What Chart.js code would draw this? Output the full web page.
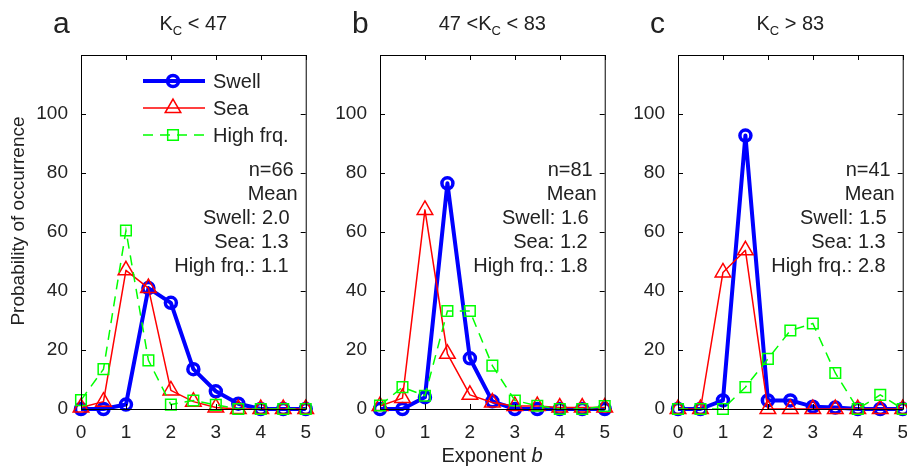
<!DOCTYPE html>
<html>
<head>
<meta charset="utf-8">
<script src="https://cdn.jsdelivr.net/npm/chart.js@4.4.0/dist/chart.umd.min.js"></script>
<style>
html, body { margin: 0; padding: 0; background: #fff; overflow: hidden; }
#wrap { position: relative; width: 907px; height: 468px; overflow: hidden; }
canvas { position: absolute; top: 0; }
</style>
</head>
<body>
<div id="wrap">
  <canvas id="pa" width="317" height="468" style="left:6px"></canvas>
  <canvas id="pb" width="317" height="468" style="left:305px"></canvas>
  <canvas id="pc" width="317" height="468" style="left:603px"></canvas>
</div>
<script>
// exponent b bins and tick labels
var xValues = [0, 0.5, 1, 1.5, 2, 2.5, 3, 3.5, 4, 4.5, 5];
var xTicks = [0, 1, 2, 3, 4, 5];
var yTicks = [0, 20, 40, 60, 80, 100];
var seriesNames = ['Swell', 'Sea', 'High frq.'];
var panelLetters = ['a', 'b', 'c'];

// probability of occurrence (%) per panel
var swellA = [0, 0, 1.5, 41, 36, 13.5, 6, 1.8, 0, 0, 0];
var seaA   = [0.5, 2.5, 47, 41, 6.3, 2.5, 0.5, 0, 0, 0, 0];
var highA  = [3, 13.5, 60.5, 16.5, 1.5, 2.9, 1.4, 0, 0, 0, 0];

var swellB = [0, 0, 4, 76.5, 17.2, 2.6, 0, 0, 0, 0, 0];
var seaB   = [1, 3.7, 67.5, 18.7, 4.8, 2.2, 1, 1, 0.5, 0.5, 0.5];
var highB  = [1.2, 7.4, 4.5, 33.2, 33.2, 14.7, 2.9, 1.1, 0, 0, 1];

var swellC = [0, 0, 2.9, 92.7, 2.9, 2.9, 0.8, 0.5, 0, 0, 0];
var seaC   = [0, 0, 46.3, 53.8, 0, 0, 0, 0, 0, 0, 0];
var highC  = [0, 0, 0, 7.4, 17, 26.6, 29, 12.2, 0, 4.8, 0];

// annotation numbers
var countN    = [66, 81, 41];
var meanSwell = ['2.0', '1.6', '1.5'];
var meanSea   = ['1.3', '1.2', '1.3'];
var meanHigh  = ['1.1', '1.8', '2.8'];

var FONT = '"Liberation Sans", Arial, Helvetica, sans-serif';
var TXT = '#222';

function toPts(arr) {
    return arr.map(function (v, i) { return { x: xValues[i], y: v }; });
}

// title pieces, 'C' is subscript
function titleParts(i) {
    if (i == 0) return [['K', 0], ['C', 1], [' < 47', 0]];
    if (i == 1) return [['47 <K', 0], ['C', 1], [' < 83', 0]];
    return [['K', 0], ['C', 1], [' > 83', 0]];
}

function drawMarker(ctx, style, x, y, r) {
    ctx.beginPath();
    if (style == 'circle') {
        ctx.arc(x, y, r, 0, Math.PI * 2);
    } else if (style == 'triangle') {
        ctx.moveTo(x, y - r);
        ctx.lineTo(x + Math.sin(2 * Math.PI / 3) * r, y + r / 2);
        ctx.lineTo(x - Math.sin(2 * Math.PI / 3) * r, y + r / 2);
        ctx.closePath();
    } else {
        var s = Math.SQRT1_2 * r;
        ctx.rect(x - s, y - s, 2 * s, 2 * s);
    }
    ctx.stroke();
}

var decor = {
    id: 'decor',
    afterDraw: function (chart, args, opts) {
        var ctx = chart.ctx;
        var a = chart.chartArea;
        var xs = chart.scales.x, ys = chart.scales.y;
        var p = opts.panel;
        ctx.save();

        // box + inward ticks
        ctx.strokeStyle = '#000';
        ctx.lineWidth = 1;
        ctx.strokeRect(a.left + 0.5, a.top + 0.5, a.right - a.left, a.bottom - a.top);
        ctx.beginPath();
        xTicks.forEach(function (v) {
            var px = Math.round(xs.getPixelForValue(v)) + 0.5;
            ctx.moveTo(px, a.bottom); ctx.lineTo(px, a.bottom - 5);
            ctx.moveTo(px, a.top); ctx.lineTo(px, a.top + 5);
        });
        yTicks.forEach(function (v) {
            var py = Math.round(ys.getPixelForValue(v)) + 0.5;
            ctx.moveTo(a.left, py); ctx.lineTo(a.left + 5, py);
            ctx.moveTo(a.right, py); ctx.lineTo(a.right - 5, py);
        });
        ctx.stroke();

        ctx.fillStyle = TXT;
        ctx.textBaseline = 'alphabetic';

        // panel letter
        ctx.font = '30px ' + FONT;
        ctx.textAlign = 'left';
        ctx.fillText(panelLetters[p], a.left - 28, 33);

        // title with subscript
        var parts = titleParts(p);
        var total = 0;
        parts.forEach(function (t) {
            ctx.font = (t[1] ? '13px ' : '20px ') + FONT;
            total += ctx.measureText(t[0]).width;
        });
        var tx = (a.left + a.right) / 2 - total / 2;
        parts.forEach(function (t) {
            ctx.font = (t[1] ? '13px ' : '20px ') + FONT;
            ctx.fillText(t[0], tx, t[1] ? 35 : 30);
            tx += ctx.measureText(t[0]).width;
        });

        // statistics text
        ctx.font = '20px ' + FONT;
        ctx.textAlign = 'right';
        var lines = [
            ['n=' + countN[p], 12, 176],
            ['Mean', 8, 200],
            ['Swell: ' + meanSwell[p], 16, 224],
            ['Sea: ' + meanSea[p], 17, 248],
            ['High frq.: ' + meanHigh[p], 17, 272]
        ];
        lines.forEach(function (l) { ctx.fillText(l[0], a.right - l[1], l[2]); });

        if (p == 0) {
            // legend
            var ds = chart.data.datasets;
            var ly = [81, 108, 135];
            [0, 1, 2].forEach(function (k) {
                var d = ds[k];
                ctx.strokeStyle = d.borderColor;
                ctx.lineWidth = d.borderWidth;
                ctx.setLineDash(d.borderDash || []);
                ctx.beginPath();
                ctx.moveTo(a.left + 62, ly[k]);
                ctx.lineTo(a.left + 124, ly[k]);
                ctx.stroke();
                ctx.setLineDash([]);
                ctx.lineWidth = d.pointBorderWidth;
                drawMarker(ctx, d.pointStyle, a.left + 92, ly[k], d.pointRadius);
                ctx.fillStyle = TXT;
                ctx.textAlign = 'left';
                ctx.textBaseline = 'middle';
                ctx.font = '20px ' + FONT;
                ctx.fillText(seriesNames[k], a.left + 132, ly[k] + 1);
            });

            // y label
            ctx.save();
            ctx.translate(13, 221);
            ctx.rotate(-Math.PI / 2);
            ctx.textAlign = 'center';
            ctx.textBaseline = 'middle';
            ctx.font = '19px ' + FONT;
            ctx.fillText('Probability of occurrence', 0, 0);
            ctx.restore();
        }

        if (p == 1) {
            // x label, b in italics
            ctx.textBaseline = 'alphabetic';
            ctx.textAlign = 'left';
            ctx.font = '20px ' + FONT;
            var w1 = ctx.measureText('Exponent ').width;
            ctx.font = 'italic 20px ' + FONT;
            var w2 = ctx.measureText('b').width;
            var sx = 187 - (w1 + w2) / 2;
            ctx.font = '20px ' + FONT;
            ctx.fillText('Exponent ', sx, 462);
            ctx.font = 'italic 20px ' + FONT;
            ctx.fillText('b', sx + w1, 462);
        }
        ctx.restore();
    }
};

function makeChart(id, panel, swell, sea, high) {
    return new Chart(document.getElementById(id), {
        type: 'line',
        data: {
            datasets: [
                {
                    label: seriesNames[0], data: toPts(swell),
                    borderColor: '#0000ff', borderWidth: 4, borderJoinStyle: 'round',
                    pointStyle: 'circle', pointRadius: 5.5, pointBorderWidth: 3.5,
                    pointBorderColor: '#0000ff', pointBackgroundColor: 'rgba(0,0,0,0)',
                    clip: false, order: 3
                },
                {
                    label: seriesNames[1], data: toPts(sea),
                    borderColor: '#ff0000', borderWidth: 1.5, borderJoinStyle: 'round',
                    pointStyle: 'triangle', pointRadius: 9, pointBorderWidth: 1.5,
                    pointBorderColor: '#ff0000', pointBackgroundColor: 'rgba(0,0,0,0)',
                    clip: false, order: 2
                },
                {
                    label: seriesNames[2], data: toPts(high),
                    borderColor: '#00ff00', borderWidth: 1.5, borderDash: [10, 7],
                    pointStyle: 'rect', pointRadius: 7.5, pointBorderWidth: 1.5,
                    pointBorderColor: '#00ff00', pointBackgroundColor: 'rgba(0,0,0,0)',
                    clip: false, order: 1
                }
            ]
        },
        options: {
            responsive: false,
            animation: false,
            devicePixelRatio: 1,
            layout: { padding: { left: 0, right: 15, top: 55, bottom: 0 } },
            elements: { line: { tension: 0 } },
            scales: {
                x: {
                    type: 'linear', min: 0, max: 5,
                    grid: { display: false, drawTicks: false },
                    border: { display: false },
                    ticks: { padding: 12, color: TXT, font: { family: FONT, size: 19 } },
                    afterBuildTicks: function (s) { s.ticks = xTicks.map(function (v) { return { value: v }; }); },
                    afterFit: function (s) { s.height = 59; }
                },
                y: {
                    min: 0, max: 120,
                    grid: { display: false, drawTicks: false },
                    border: { display: false },
                    ticks: { padding: 13, color: TXT, font: { family: FONT, size: 19 } },
                    afterBuildTicks: function (s) { s.ticks = yTicks.map(function (v) { return { value: v }; }); },
                    afterFit: function (s) { s.width = 75; }
                }
            },
            plugins: {
                legend: { display: false },
                tooltip: { enabled: false },
                decor: { panel: panel }
            }
        },
        plugins: [decor]
    });
}

makeChart('pa', 0, swellA, seaA, highA);
makeChart('pb', 1, swellB, seaB, highB);
makeChart('pc', 2, swellC, seaC, highC);
</script>
</body>
</html>
